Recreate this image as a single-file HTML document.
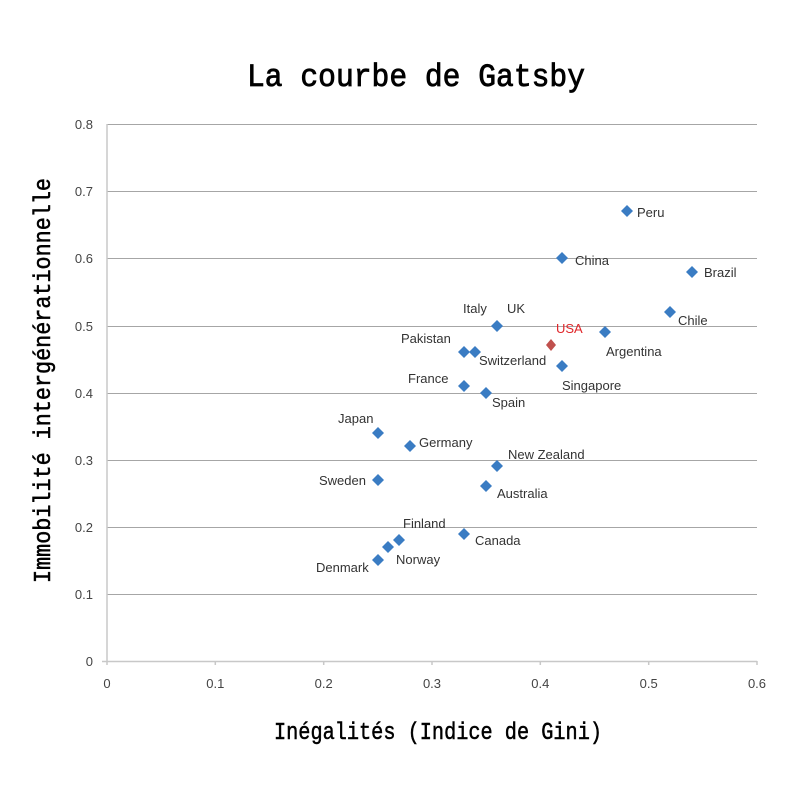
<!DOCTYPE html>
<html><head><meta charset="utf-8"><style>body{margin:0;background:#fff}svg{display:block}</style></head>
<body>
<svg width="785" height="797" xmlns="http://www.w3.org/2000/svg" font-family="Liberation Sans, sans-serif">
<rect width="785" height="797" fill="#fff"/>
<text x="247" y="86" font-family="Liberation Mono, monospace" font-size="32" textLength="338" lengthAdjust="spacingAndGlyphs" fill="#000" stroke="#000" stroke-width="0.8">La courbe de Gatsby</text>
<g stroke="#a6a6a6" stroke-width="1">
<line x1="107" x2="757" y1="124.5" y2="124.5"/>
<line x1="107" x2="757" y1="191.5" y2="191.5"/>
<line x1="107" x2="757" y1="258.5" y2="258.5"/>
<line x1="107" x2="757" y1="326.5" y2="326.5"/>
<line x1="107" x2="757" y1="393.5" y2="393.5"/>
<line x1="107" x2="757" y1="460.5" y2="460.5"/>
<line x1="107" x2="757" y1="527.5" y2="527.5"/>
<line x1="107" x2="757" y1="594.5" y2="594.5"/>
</g>
<g stroke="#c8c8c8" stroke-width="1.5">
<line x1="107" x2="107" y1="124" y2="665"/>
<line x1="102" x2="757" y1="661.5" y2="661.5"/>
<line x1="215.3" x2="215.3" y1="661" y2="665"/>
<line x1="323.7" x2="323.7" y1="661" y2="665"/>
<line x1="432" x2="432" y1="661" y2="665"/>
<line x1="540.3" x2="540.3" y1="661" y2="665"/>
<line x1="648.7" x2="648.7" y1="661" y2="665"/>
<line x1="757" x2="757" y1="661" y2="665"/>
</g>
<g font-size="13" fill="#444" text-anchor="end">
<text x="93" y="129">0.8</text><text x="93" y="196">0.7</text><text x="93" y="263">0.6</text><text x="93" y="331">0.5</text><text x="93" y="398">0.4</text><text x="93" y="465">0.3</text><text x="93" y="532">0.2</text><text x="93" y="599">0.1</text><text x="93" y="666">0</text>
</g>
<g font-size="13" fill="#444" text-anchor="middle">
<text x="107" y="688">0</text><text x="215.3" y="688">0.1</text><text x="323.7" y="688">0.2</text><text x="432" y="688">0.3</text><text x="540.3" y="688">0.4</text><text x="648.7" y="688">0.5</text><text x="757" y="688">0.6</text>
</g>
<text x="274" y="739" font-family="Liberation Mono, monospace" font-size="24" textLength="328" lengthAdjust="spacingAndGlyphs" fill="#000" stroke="#000" stroke-width="0.5">Inégalités (Indice de Gini)</text>
<text transform="translate(50,583) rotate(-90)" font-family="Liberation Mono, monospace" font-size="24" textLength="405" lengthAdjust="spacingAndGlyphs" fill="#000" stroke="#000" stroke-width="0.5">Immobilité intergénérationnelle</text>
<defs><path id="d" d="M0,-6 L6,0 L0,6 L-6,0Z"/></defs>
<g fill="#3a7cc3">
<use href="#d" x="627" y="211"/>
<use href="#d" x="562" y="258"/>
<use href="#d" x="692" y="272"/>
<use href="#d" x="670" y="312"/>
<use href="#d" x="497" y="326"/>
<use href="#d" x="605" y="332"/>
<use href="#d" x="464" y="352"/>
<use href="#d" x="475" y="352"/>
<use href="#d" x="562" y="366"/>
<use href="#d" x="464" y="386"/>
<use href="#d" x="486" y="393"/>
<use href="#d" x="378" y="433"/>
<use href="#d" x="410" y="446"/>
<use href="#d" x="497" y="466"/>
<use href="#d" x="378" y="480"/>
<use href="#d" x="486" y="486"/>
<use href="#d" x="464" y="534"/>
<use href="#d" x="399" y="540"/>
<use href="#d" x="388" y="547"/>
<use href="#d" x="378" y="560"/>
</g>
<path d="M551,339 L556,345 L551,351 L546,345Z" fill="#c0504d"/>
<g font-size="13" fill="#333">
<text x="637" y="217">Peru</text>
<text x="575" y="265">China</text>
<text x="704" y="277">Brazil</text>
<text x="678" y="325">Chile</text>
<text x="463" y="313">Italy</text>
<text x="507" y="313">UK</text>
<text x="606" y="356">Argentina</text>
<text x="401" y="343">Pakistan</text>
<text x="479" y="365">Switzerland</text>
<text x="562" y="390">Singapore</text>
<text x="408" y="383">France</text>
<text x="492" y="407">Spain</text>
<text x="338" y="423">Japan</text>
<text x="419" y="447">Germany</text>
<text x="508" y="459">New Zealand</text>
<text x="319" y="485">Sweden</text>
<text x="497" y="498">Australia</text>
<text x="403" y="528">Finland</text>
<text x="475" y="545">Canada</text>
<text x="396" y="564">Norway</text>
<text x="316" y="572">Denmark</text>
</g>
<text x="556" y="333" font-size="13" fill="#e0262a">USA</text>
</svg>
</body></html>
